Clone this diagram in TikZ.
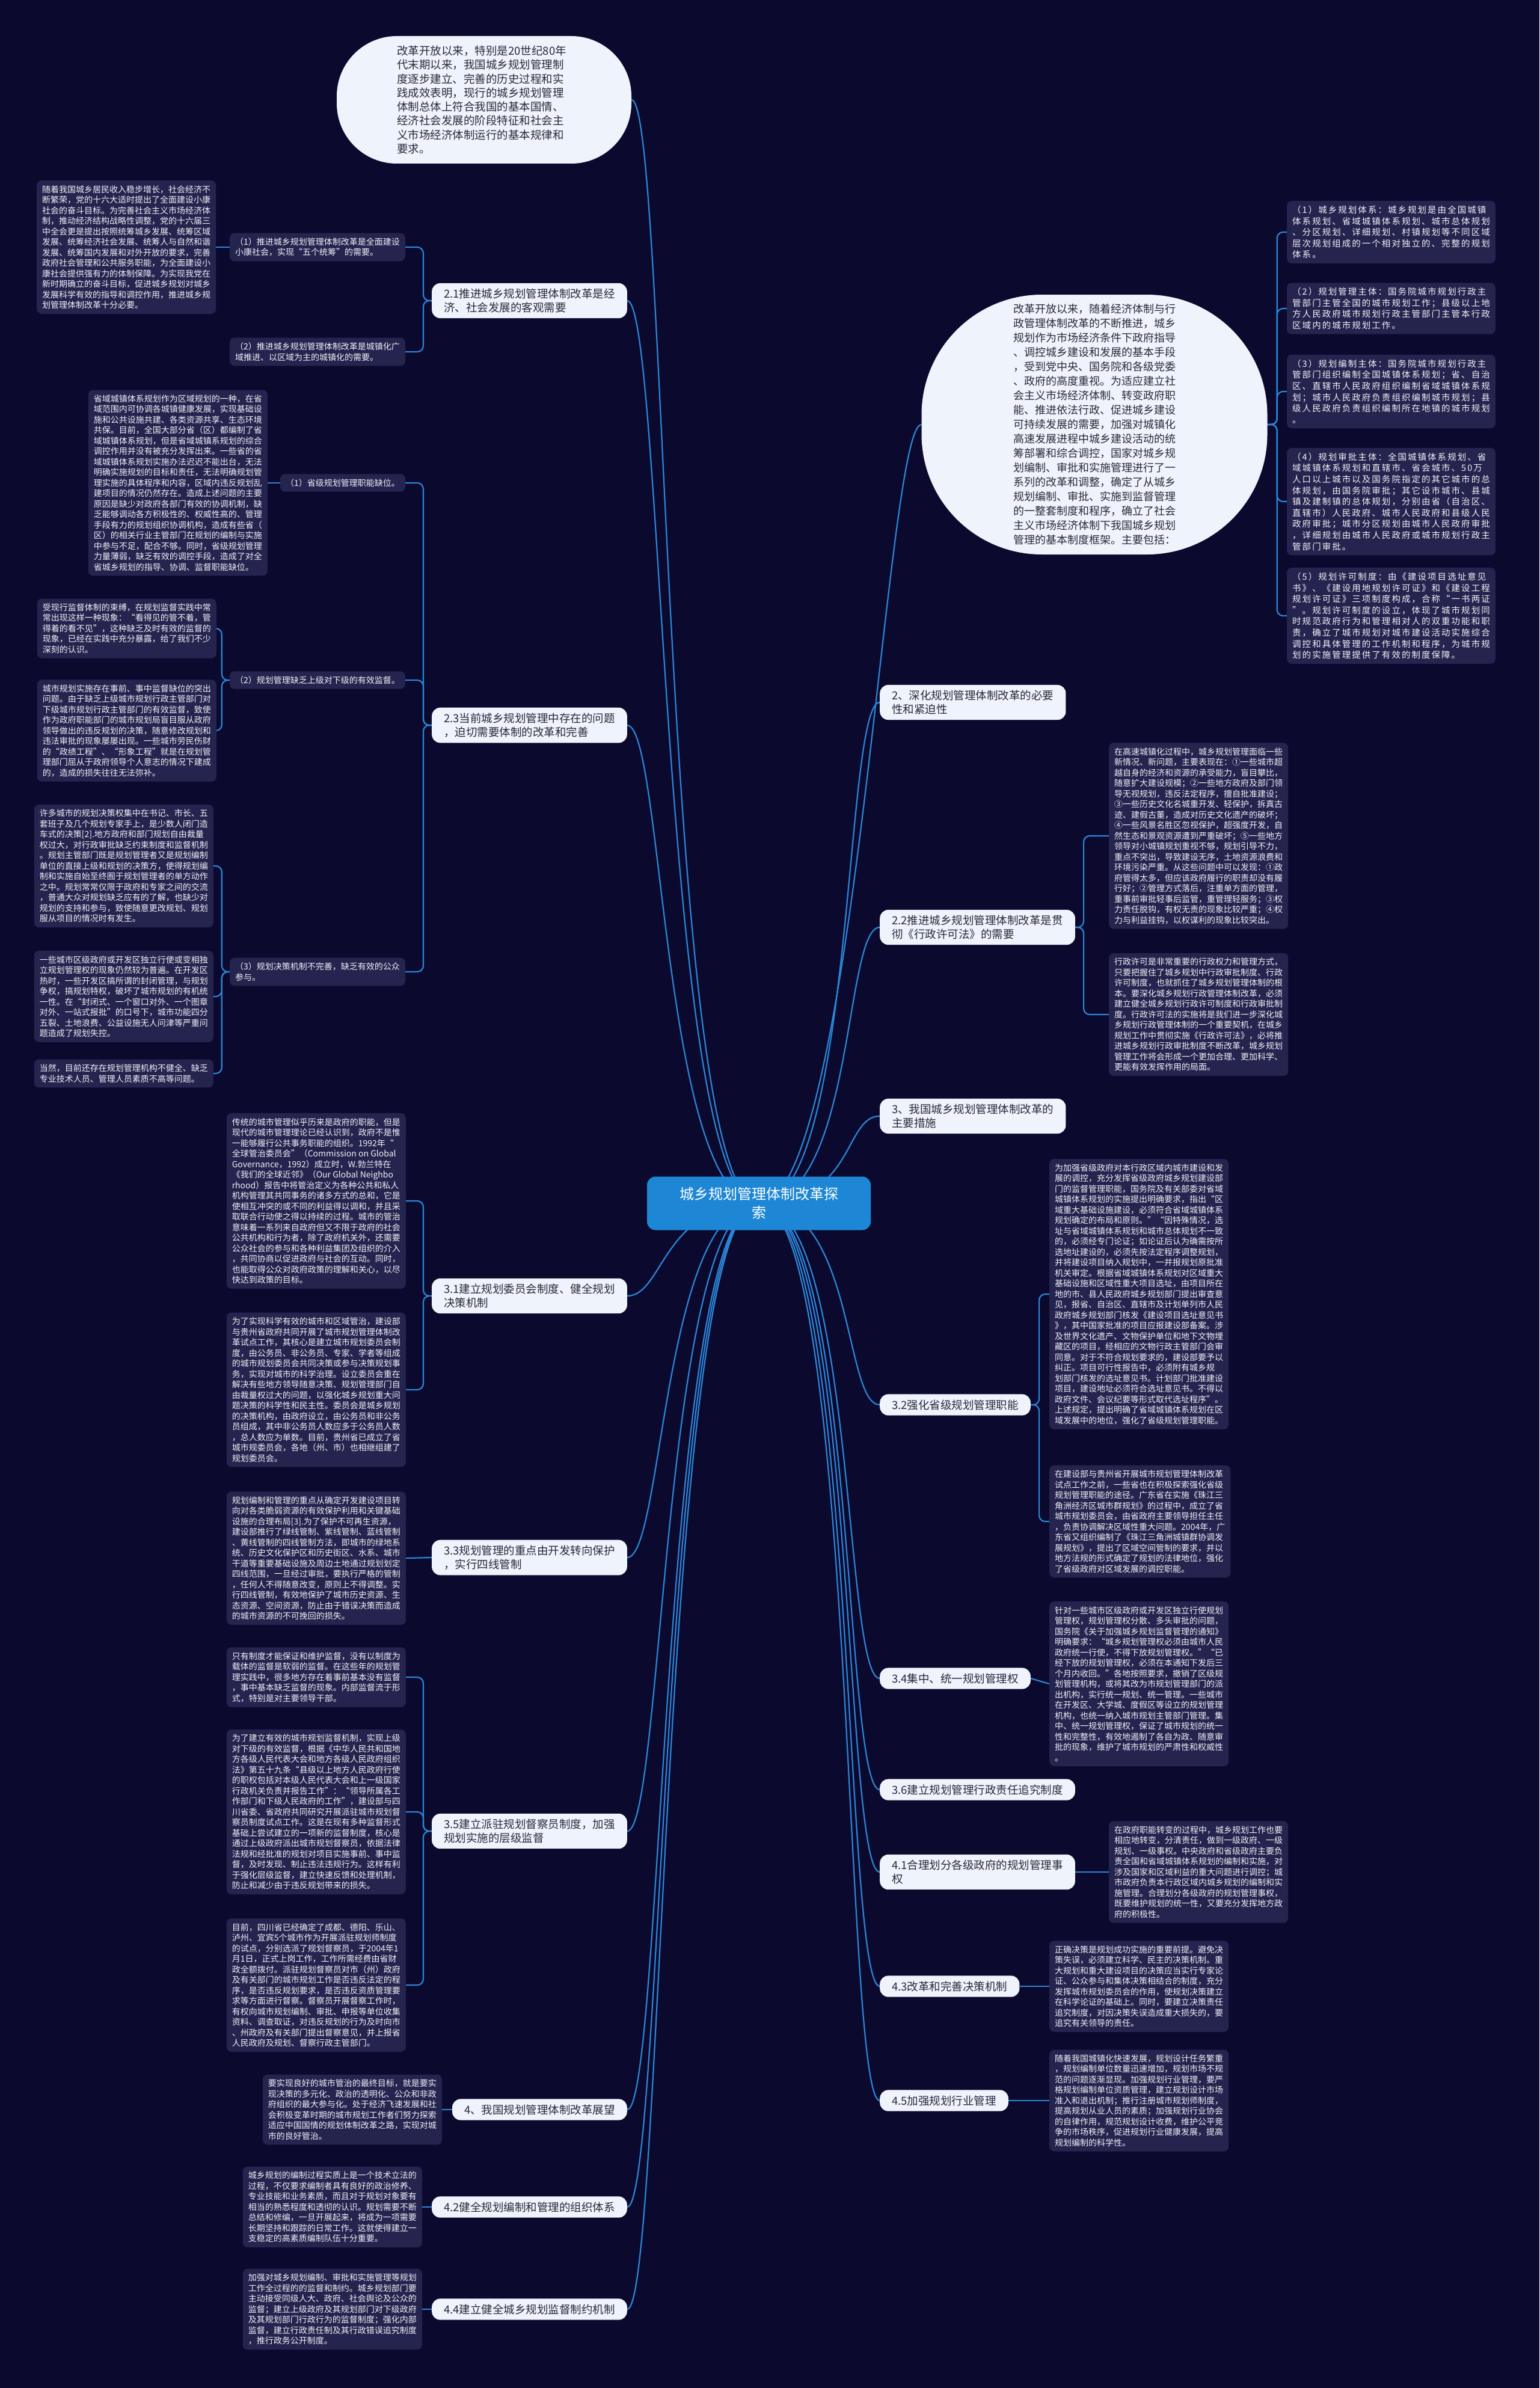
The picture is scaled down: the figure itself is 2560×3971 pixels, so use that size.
\documentclass[tikz,border=0pt]{standalone}
\usepackage{fontspec}
\setmainfont{Noto Sans CJK SC}
\newfontfamily\rtfont[LetterSpace=14]{Noto Sans CJK SC}
\usetikzlibrary{calc}
\definecolor{bgc}{HTML}{0B0A2E}
\definecolor{blkc}{HTML}{25244F}
\definecolor{blktxt}{HTML}{F2F2F7}
\definecolor{nodec}{HTML}{EEF3FC}
\definecolor{nodetxt}{HTML}{2A2A3A}
\definecolor{ctrc}{HTML}{1D87D6}
\definecolor{linec}{HTML}{2C86D8}
\pgfdeclarelayer{bgfill}
\pgfdeclarelayer{lines}
\pgfsetlayers{bgfill,lines,main}
\tikzset{
  blk/.style={fill=blkc,text=blktxt,rounded corners=8pt,inner xsep=9pt,inner ysep=8pt,align=left,font=\fontsize{14}{17.5}\selectfont},
  rtblk/.style={blk,font=\rtfont\fontsize{14.5}{18.6}\selectfont},
  brn/.style={fill=nodec,text=nodetxt,rounded corners=14pt,inner xsep=20pt,inner ysep=9pt,align=left,font=\fontsize{18.5}{23}\selectfont},
  conn/.style={draw=linec,line width=2.2pt},
  brk/.style={conn,rounded corners=10pt},
}
\begin{document}
\begin{tikzpicture}[x=1pt,y=-1pt]
\useasboundingbox (0,0) rectangle (2560,3971);
\begin{pgfonlayer}{bgfill}
\fill[bgc] (0,0) rectangle (2560,3971);
\end{pgfonlayer}

% center
\node[fill=ctrc,text=white,rounded corners=14pt,minimum width=372pt,minimum height=89pt,align=center,font=\fontsize{24}{31}\selectfont] (ctr) at (1262,2001) {城乡规划管理体制改革探\\索};

% top bubble
\node[fill=nodec,rounded corners=100pt,minimum width=490pt,minimum height=212pt] (B) at (805,166) {};
\node[text=nodetxt,align=left,font=\fontsize{18.5}{23.3}\selectfont] (Bt) at (801,166) {改革开放以来，特别是20世纪80年\\代末期以来，我国城乡规划管理制\\度逐步建立、完善的历史过程和实\\践成效表明，现行的城乡规划管理\\体制总体上符合我国的基本国情、\\经济社会发展的阶段特征和社会主\\义市场经济体制运行的基本规律和\\要求。};

% right ellipse
\node[fill=nodec,rounded corners=200pt,minimum width=575pt,minimum height=432pt] (E) at (1820,706) {};
\node[text=nodetxt,align=left,font=\fontsize{18}{24}\selectfont] (Et) at (1820,706) {改革开放以来，随着经济体制与行\\政管理体制改革的不断推进，城乡\\规划作为市场经济条件下政府指导\\、调控城乡建设和发展的基本手段\\，受到党中央、国务院和各级党委\\、政府的高度重视。为适应建立社\\会主义市场经济体制、转变政府职\\能、推进依法行政、促进城乡建设\\可持续发展的需要，加强对城镇化\\高速发展进程中城乡建设活动的统\\筹部署和综合调控，国家对城乡规\\划编制、审批和实施管理进行了一\\系列的改革和调整，确定了从城乡\\规划编制、审批、实施到监督管理\\的一整套制度和程序，确立了社会\\主义市场经济体制下我国城乡规划\\管理的基本制度框架。主要包括：};

% right-top blocks
\node[rtblk,anchor=west] (RT1) at (2140,386) {（1）城乡规划体系：城乡规划是由全国城镇\\体系规划、省域城镇体系规划、城市总体规划\\、分区规划、详细规划、村镇规划等不同区域\\层次规划组成的一个相对独立的、完整的规划\\体系。};
\node[rtblk,anchor=west] (RT2) at (2140,513) {（2）规划管理主体：国务院城市规划行政主\\管部门主管全国的城市规划工作；县级以上地\\方人民政府城市规划行政主管部门主管本行政\\区域内的城市规划工作。};
\node[rtblk,anchor=west] (RT3) at (2140,651) {（3）规划编制主体：国务院城市规划行政主\\管部门组织编制全国城镇体系规划；省、自治\\区、直辖市人民政府组织编制省域城镇体系规\\划；城市人民政府负责组织编制城市规划；县\\级人民政府负责组织编制所在地镇的城市规划\\。};
\node[rtblk,anchor=west] (RT4) at (2140,834) {（4）规划审批主体：全国城镇体系规划、省\\域城镇体系规划和直辖市、省会城市、50万\\人口以上城市以及国务院指定的其它城市的总\\体规划，由国务院审批；其它设市城市、县城\\镇及建制镇的总体规划，分别由省（自治区、\\直辖市）人民政府、城市人民政府和县级人民\\政府审批；城市分区规划由城市人民政府审批\\，详细规划由城市人民政府或城市规划行政主\\管部门审批。};
\node[rtblk,anchor=west] (RT5) at (2140,1024) {（5）规划许可制度：由《建设项目选址意见\\书》、《建设用地规划许可证》和《建设工程\\规划许可证》三项制度构成，合称“一书两证\\”。规划许可制度的设立，体现了城市规划同\\时规范政府行为和管理相对人的双重功能和职\\责，确立了城市规划对城市建设活动实施综合\\调控和具体管理的工作机制和程序，为城市规\\划的实施管理提供了有效的制度保障。};

% left branch nodes
\node[brn,anchor=east] (n21) at (1043,500) {2.1推进城乡规划管理体制改革是经\\济、社会发展的客观需要};
\node[brn,anchor=east] (n23) at (1043,1206) {2.3当前城乡规划管理中存在的问题\\，迫切需要体制的改革和完善};
\node[brn,anchor=east] (n31) at (1043,2155) {3.1建立规划委员会制度、健全规划\\决策机制};
\node[brn,anchor=east] (n33) at (1043,2590) {3.3规划管理的重点由开发转向保护\\，实行四线管制};
\node[brn,anchor=east] (n35) at (1043,3045) {3.5建立派驻规划督察员制度，加强\\规划实施的层级监督};
\node[brn,anchor=east] (n4) at (1043,3508) {4、我国规划管理体制改革展望};
\node[brn,anchor=east] (n42) at (1043,3670) {4.2健全规划编制和管理的组织体系};
\node[brn,anchor=east] (n44) at (1043,3840) {4.4建立健全城乡规划监督制约机制};

% right branch nodes
\node[brn,anchor=west] (n2) at (1463,1168) {2、深化规划管理体制改革的必要\\性和紧迫性};
\node[brn,anchor=west] (n22) at (1463,1542) {2.2推进城乡规划管理体制改革是贯\\彻《行政许可法》的需要};
\node[brn,anchor=west] (n3) at (1463,1856) {3、我国城乡规划管理体制改革的\\主要措施};
\node[brn,anchor=west] (n32) at (1463,2336) {3.2强化省级规划管理职能};
\node[brn,anchor=west] (n34) at (1463,2791) {3.4集中、统一规划管理权};
\node[brn,anchor=west] (n36) at (1463,2976) {3.6建立规划管理行政责任追究制度};
\node[brn,anchor=west] (n41) at (1463,3113) {4.1合理划分各级政府的规划管理事\\权};
\node[brn,anchor=west] (n43) at (1463,3303) {4.3改革和完善决策机制};
\node[brn,anchor=west] (n45) at (1463,3493) {4.5加强规划行业管理};

% sub nodes left
\node[blk,anchor=east] (s1a) at (674,411) {（1）推进城乡规划管理体制改革是全面建设\\小康社会，实现“五个统筹”的需要。};
\node[blk,anchor=east] (s2a) at (674,585) {（2）推进城乡规划管理体制改革是城镇化广\\域推进、以区域为主的城镇化的需要。};
\node[blk,anchor=east] (s1b) at (674,803) {（1）省级规划管理职能缺位。};
\node[blk,anchor=east] (s2b) at (674,1131) {（2）规划管理缺乏上级对下级的有效监督。};
\node[blk,anchor=east] (s3b) at (674,1616) {（3）规划决策机制不完善，缺乏有效的公众\\参与。};

% left blocks
\node[blk,anchor=west] (L1) at (61,411) {随着我国城乡居民收入稳步增长，社会经济不\\断繁荣，党的十六大适时提出了全面建设小康\\社会的奋斗目标。为完善社会主义市场经济体\\制，推动经济结构战略性调整，党的十六届三\\中全会更是提出按照统筹城乡发展、统筹区域\\发展、统筹经济社会发展、统筹人与自然和谐\\发展、统筹国内发展和对外开放的要求，完善\\政府社会管理和公共服务职能，为全面建设小\\康社会提供强有力的体制保障。为实现我党在\\新时期确立的奋斗目标，促进城乡规划对城乡\\发展科学有效的指导和调控作用，推进城乡规\\划管理体制改革十分必要。};
\node[blk,anchor=east] (L2) at (445,803) {省域城镇体系规划作为区域规划的一种，在省\\域范围内可协调各城镇健康发展，实现基础设\\施和公共设施共建、各类资源共享、生态环境\\共保。目前，全国大部分省（区）都编制了省\\域城镇体系规划，但是省域城镇系规划的综合\\调控作用并没有被充分发挥出来。一些省的省\\域城镇体系规划实施办法迟迟不能出台，无法\\明确实施规划的目标和责任，无法明确规划管\\理实施的具体程序和内容，区域内违反规划乱\\建项目的情况仍然存在。造成上述问题的主要\\原因是缺少对政府各部门有效的协调机制，缺\\乏能够调动各方积极性的、权威性高的、管理\\手段有力的规划组织协调机构，造成有些省（\\区）的相关行业主管部门在规划的编制与实施\\中参与不足，配合不够。同时，省级规划管理\\力量薄弱，缺乏有效的调控手段，造成了对全\\省城乡规划的指导、协调、监督职能缺位。};
\node[blk,anchor=east] (L3) at (360,1045) {受现行监督体制的束缚，在规划监督实践中常\\常出现这样一种现象：“看得见的管不着，管\\得着的看不见”，这种缺乏及时有效的监督的\\现象，已经在实践中充分暴露，给了我们不少\\深刻的认识。};
\node[blk,anchor=east] (L4) at (360,1215) {城市规划实施存在事前、事中监督缺位的突出\\问题。由于缺乏上级城市规划行政主管部门对\\下级城市规划行政主管部门的有效监督，致使\\作为政府职能部门的城市规划局盲目服从政府\\领导做出的违反规划的决策，随意修改规划和\\违法审批的现象屡屡出现。一些城市劳民伤财\\的“政绩工程”、“形象工程”就是在规划管\\理部门屈从于政府领导个人意志的情况下建成\\的，造成的损失往往无法弥补。};
\node[blk,anchor=east] (L5) at (355,1440) {许多城市的规划决策权集中在书记、市长、五\\套班子及几个规划专家手上，是少数人闭门造\\车式的决策[2].地方政府和部门规划自由裁量\\权过大，对行政审批缺乏约束制度和监督机制\\。规划主管部门既是规划管理者又是规划编制\\单位的直接上级和规划的决策方，使得规划编\\制和实施自始至终囿于规划管理者的单方动作\\之中。规划常常仅限于政府和专家之间的交流\\，普通大众对规划缺乏应有的了解，也缺少对\\规划的支持和参与，致使随意更改规划、规划\\服从项目的情况时有发生。};
\node[blk,anchor=east] (L6) at (355,1657) {一些城市区级政府或开发区独立行使或变相独\\立规划管理权的现象仍然较为普遍。在开发区\\热时，一些开发区搞所谓的封闭管理，与规划\\争权，搞规划特权，破坏了城市规划的有机统\\一性。在“封闭式、一个窗口对外、一个图章\\对外、一站式报批”的口号下，城市功能四分\\五裂、土地浪费、公益设施无人问津等严重问\\题造成了规划失控。};
\node[blk,anchor=east] (L7) at (355,1785) {当然，目前还存在规划管理机构不健全、缺乏\\专业技术人员、管理人员素质不高等问题。};

\node[blk,anchor=east] (L8) at (675,1997) {传统的城市管理似乎历来是政府的职能，但是\\现代的城市管理理论已经认识到，政府不是惟\\一能够履行公共事务职能的组织。1992年“\\全球管治委员会”（Commission on Global\\ Governance，1992）成立时，W.勃兰特在\\《我们的全球近邻》（Our Global Neighbo\\rhood）报告中将管治定义为各种公共和私人\\机构管理其共同事务的诸多方式的总和，它是\\使相互冲突的或不同的利益得以调和，并且采\\取联合行动使之得以持续的过程。城市的管治\\意味着一系列来自政府但又不限于政府的社会\\公共机构和行为者，除了政府机关外，还需要\\公众社会的参与和各种利益集团及组织的介入\\，共同协商以促进政府与社会的互动。同时，\\也能取得公众对政府政策的理解和关心，以尽\\快达到政策的目标。};
\node[blk,anchor=east] (L9) at (675,2311) {为了实现科学有效的城市和区域管治，建设部\\与贵州省政府共同开展了城市规划管理体制改\\革试点工作，其核心是建立城市规划委员会制\\度，由公务员、非公务员、专家、学者等组成\\的城市规划委员会共同决策或参与决策规划事\\务，实现对城市的科学治理。设立委员会重在\\解决有些地方领导随意决策、规划管理部门自\\由裁量权过大的问题，以强化城乡规划重大问\\题决策的科学性和民主性。委员会是城乡规划\\的决策机构，由政府设立，由公务员和非公务\\员组成，其中非公务员人数应多于公务员人数\\，总人数应为单数。目前，贵州省已成立了省\\城市规委员会，各地（州、市）也相继组建了\\规划委员会。};
\node[blk,anchor=east] (L10) at (675,2591) {规划编制和管理的重点从确定开发建设项目转\\向对各类脆弱资源的有效保护利用和关键基础\\设施的合理布局[3].为了保护不可再生资源，\\建设部推行了绿线管制、紫线管制、蓝线管制\\、黄线管制的四线管制方法，即城市的绿地系\\统、历史文化保护区和历史街区、水系、城市\\干道等重要基础设施及周边土地通过规划划定\\四线范围，一旦经过审批，要执行严格的管制\\，任何人不得随意改变，原则上不得调整。实\\行四线管制，有效地保护了城市历史资源、生\\态资源、空间资源，防止由于错误决策而造成\\的城市资源的不可挽回的损失。};
\node[blk,anchor=east] (L11) at (675,2789) {只有制度才能保证和维护监督，没有以制度为\\载体的监督是软弱的监督。在这些年的规划管\\理实践中，很多地方存在着事前基本没有监督\\，事中基本缺乏监督的现象。内部监督流于形\\式，特别是对主要领导干部。};
\node[blk,anchor=east] (L12) at (675,3013) {为了建立有效的城市规划监督机制，实现上级\\对下级的有效监督，根据《中华人民共和国地\\方各级人民代表大会和地方各级人民政府组织\\法》第五十九条“县级以上地方人民政府行使\\的职权包括对本级人民代表大会和上一级国家\\行政机关负责并报告工作”：“领导所属各工\\作部门和下级人民政府的工作”，建设部与四\\川省委、省政府共同研究开展派驻城市规划督\\察员制度试点工作。这是在现有多种监督形式\\基础上尝试建立的一项新的监督制度，核心是\\通过上级政府派出城市规划督察员，依据法律\\法规和经批准的规划对项目实施事前、事中监\\督，及时发现、制止违法违规行为。这样有利\\于强化层级监督，建立快速反馈和处理机制，\\防止和减少由于违反规划带来的损失。};
\node[blk,anchor=east] (L13) at (675,3301) {目前，四川省已经确定了成都、德阳、乐山、\\泸州、宜宾5个城市作为开展派驻规划师制度\\的试点，分别选派了规划督察员，于2004年1\\月1日，正式上岗工作，工作所需经费由省财\\政全额拨付。派驻规划督察员对市（州）政府\\及有关部门的城市规划工作是否违反法定的程\\序，是否违反规划要求，是否违反资质管理要\\求等方面进行督察。督察员开展督察工作时，\\有权向城市规划编制、审批、申报等单位收集\\资料、调查取证，对违反规划的行为及时向市\\、州政府及有关部门提出督察意见，并上报省\\人民政府及规划、督察行政主管部门。};
\node[blk,anchor=east] (L14) at (735,3508) {要实现良好的城市管治的最终目标，就是要实\\现决策的多元化、政治的透明化、公众和非政\\府组织的最大参与化。处于经济飞速发展和社\\会积极变革时期的城市规划工作者们努力探索\\适应中国国情的规划体制改革之路，实现对城\\市的良好管治。};
\node[blk,anchor=east] (L15) at (702,3670) {城乡规划的编制过程实质上是一个技术立法的\\过程，不仅要求编制者具有良好的政治修养、\\专业技能和业务素质，而且对于规划对象要有\\相当的熟悉程度和透彻的认识。规划需要不断\\总结和修编，一旦开展起来，将成为一项需要\\长期坚持和跟踪的日常工作。这就使得建立一\\支稳定的高素质编制队伍十分重要。};
\node[blk,anchor=east] (L16) at (702,3840) {加强对城乡规划编制、审批和实施管理等规划\\工作全过程的的监督和制约。城乡规划部门要\\主动接受同级人大、政府、社会舆论及公众的\\监督；建立上级政府及其规划部门对下级政府\\及其规划部门行政行为的监督制度；强化内部\\监督，建立行政责任制及其行政错误追究制度\\，推行政务公开制度。};

% right blocks
\node[blk,anchor=west] (R1) at (1844,1390) {在高速城镇化过程中，城乡规划管理面临一些\\新情况、新问题，主要表现在：①一些城市超\\越自身的经济和资源的承受能力，盲目攀比，\\随意扩大建设规模；②一些地方政府及部门领\\导无视规划，违反法定程序，擅自批准建设；\\③一些历史文化名城重开发、轻保护，拆真古\\迹、建假古董，造成对历史文化遗产的破坏；\\④一些风景名胜区忽视保护，超强度开发，自\\然生态和景观资源遭到严重破坏；⑤一些地方\\领导对小城镇规划重视不够，规划引导不力，\\重点不突出，导致建设无序，土地资源浪费和\\环境污染严重。从这些问题中可以发现：①政\\府管得太多，但应该政府履行的职责却没有履\\行好；②管理方式落后，注重单方面的管理，\\重事前审批轻事后监管，重管理轻服务；③权\\力责任脱钩，有权无责的现象比较严重；④权\\力与利益挂钩，以权谋利的现象比较突出。};
\node[blk,anchor=west] (R2) at (1844,1687) {行政许可是非常重要的行政权力和管理方式，\\只要把握住了城乡规划中行政审批制度、行政\\许可制度，也就抓住了城乡规划管理体制的根\\本。要深化城乡规划行政管理体制改革，必须\\建立健全城乡规划行政许可制度和行政审批制\\度。行政许可法的实施将是我们进一步深化城\\乡规划行政管理体制的一个重要契机，在城乡\\规划工作中贯彻实施《行政许可法》，必将推\\进城乡规划行政审批制度不断改革，城乡规划\\管理工作将会形成一个更加合理、更加科学、\\更能有效发挥作用的局面。};
\node[blk,anchor=west] (R3) at (1745,2152) {为加强省级政府对本行政区域内城市建设和发\\展的调控，充分发挥省级政府城乡规划建设部\\门的监督管理职能，国务院及有关部委对省域\\城镇体系规划的实施提出明确要求，指出“区\\域重大基础设施建设，必须符合省域城镇体系\\规划确定的布局和原则。”“因特殊情况，选\\址与省域城镇体系规划和城市总体规划不一致\\的，必须经专门论证；如论证后认为确需按所\\选地址建设的，必须先按法定程序调整规划，\\并将建设项目纳入规划中，一并报规划原批准\\机关审定。根据省域城镇体系规划对区域重大\\基础设施和区域性重大项目选址，由项目所在\\地的市、县人民政府城乡规划部门提出审查意\\见，报省、自治区、直辖市及计划单列市人民\\政府城乡规划部门核发《建设项目选址意见书\\》，其中国家批准的项目应报建设部备案。涉\\及世界文化遗产、文物保护单位和地下文物埋\\藏区的项目，经相应的文物行政主管部门会审\\同意。对于不符合规划要求的，建设部要予以\\纠正。项目可行性报告中，必须附有城乡规\\划部门核发的选址意见书。计划部门批准建设\\项目，建设地址必须符合选址意见书。不得以\\政府文件、会议纪要等形式取代选址程序”。\\上述规定，提出明确了省域城镇体系规划在区\\域发展中的地位，强化了省级规划管理职能。};
\node[blk,anchor=west] (R4) at (1745,2530) {在建设部与贵州省开展城市规划管理体制改革\\试点工作之前，一些省也在积极探索强化省级\\规划管理职能的途径。广东省在实施《珠江三\\角洲经济区城市群规划》的过程中，成立了省\\城市规划委员会，由省政府主要领导担任主任\\，负责协调解决区域性重大问题。2004年，广\\东省又组织编制了《珠江三角洲城镇群协调发\\展规划》，提出了区域空间管制的要求，并以\\地方法规的形式确定了规划的法律地位，强化\\了省级政府对区域发展的调控职能。};
\node[blk,anchor=west] (R5) at (1745,2800) {针对一些城市区级政府或开发区独立行使规划\\管理权，规划管理权分散、多头审批的问题，\\国务院《关于加强城乡规划监督管理的通知》\\明确要求：“城乡规划管理权必须由城市人民\\政府统一行使，不得下放规划管理权。”“已\\经下放的规划管理权，必须在本通知下发后三\\个月内收回。”各地按照要求，撤销了区级规\\划管理机构，或将其改为市规划管理部门的派\\出机构，实行统一规划、统一管理。一些城市\\在开发区、大学城、度假区等设立的规划管理\\机构，也统一纳入城市规划主管部门管理。集\\中、统一规划管理权，保证了城市规划的统一\\性和完整性，有效地遏制了各自为政、随意审\\批的现象，维护了城市规划的严肃性和权威性\\。};
\node[blk,anchor=west] (R6) at (1844,3113) {在政府职能转变的过程中，城乡规划工作也要\\相应地转变，分清责任，做到一级政府、一级\\规划、一级事权。中央政府和省级政府主要负\\责全国和省域城镇体系规划的编制和实施，对\\涉及国家和区域利益的重大问题进行调控；城\\市政府负责本行政区域内城乡规划的编制和实\\施管理。合理划分各级政府的规划管理事权，\\既要维护规划的统一性，又要充分发挥地方政\\府的积极性。};
\node[blk,anchor=west] (R7) at (1745,3303) {正确决策是规划成功实施的重要前提。避免决\\策失误，必须建立科学、民主的决策机制。重\\大规划和重大建设项目的决策应当实行专家论\\证、公众参与和集体决策相结合的制度，充分\\发挥城市规划委员会的作用，使规划决策建立\\在科学论证的基础上。同时，要建立决策责任\\追究制度，对因决策失误造成重大损失的，要\\追究有关领导的责任。};
\node[blk,anchor=west] (R8) at (1745,3493) {随着我国城镇化快速发展，规划设计任务繁重\\，规划编制单位数量迅速增加，规划市场不规\\范的问题逐渐显现。加强规划行业管理，要严\\格规划编制单位资质管理，建立规划设计市场\\准入和退出机制；推行注册城市规划师制度，\\提高规划从业人员的素质；加强规划行业协会\\的自律作用，规范规划设计收费，维护公平竞\\争的市场秩序，促进规划行业健康发展，提高\\规划编制的科学性。};

% connectors
\begin{pgfonlayer}{lines}
\foreach \n in {n21,n23,n31,n33,n35,n4,n42,n44,B}
  \draw[conn] (ctr.center) .. controls +(-160,0) and +(60,0) .. (\n.east);
\foreach \n in {n2,n22,n3,n32,n34,n36,n41,n43,n45,E}
  \draw[conn] (ctr.center) .. controls +(160,0) and +(-60,0) .. (\n.west);
\foreach \n in {RT1,RT2,RT3,RT4,RT5}
  \draw[brk] (E.east) -- ++(16,0) |- (\n.west);
\foreach \c in {s1a,s2a} \draw[brk] (n21.west) -- ++(-14,0) |- (\c.east);
\foreach \c in {s1b,s2b,s3b} \draw[brk] (n23.west) -- ++(-14,0) |- (\c.east);
\draw[conn] (s1a.west) -- (L1.east);
\draw[conn] (s1b.west) -- (L2.east);
\foreach \c in {L3,L4} \draw[brk] (s2b.west) -- ++(-13,0) |- (\c.east);
\foreach \c in {L5,L6,L7} \draw[brk] (s3b.west) -- ++(-13,0) |- (\c.east);
\foreach \c in {L8,L9} \draw[brk] (n31.west) -- ++(-14,0) |- (\c.east);
\draw[conn] (n33.west) -- (L10.east);
\foreach \c in {L11,L12,L13} \draw[brk] (n35.west) -- ++(-14,0) |- (\c.east);
\draw[conn] (n4.west) -- (L14.east);
\draw[conn] (n42.west) -- (L15.east);
\draw[conn] (n44.west) -- (L16.east);
\foreach \c in {R1,R2} \draw[brk] (n22.east) -- ++(14,0) |- (\c.west);
\foreach \c in {R3,R4} \draw[brk] (n32.east) -- ++(14,0) |- (\c.west);
\draw[conn] (n34.east) -- (R5.west);
\draw[conn] (n41.east) -- (R6.west);
\draw[conn] (n43.east) -- (R7.west);
\draw[conn] (n45.east) -- (R8.west);
\end{pgfonlayer}
\end{tikzpicture}
\end{document}
